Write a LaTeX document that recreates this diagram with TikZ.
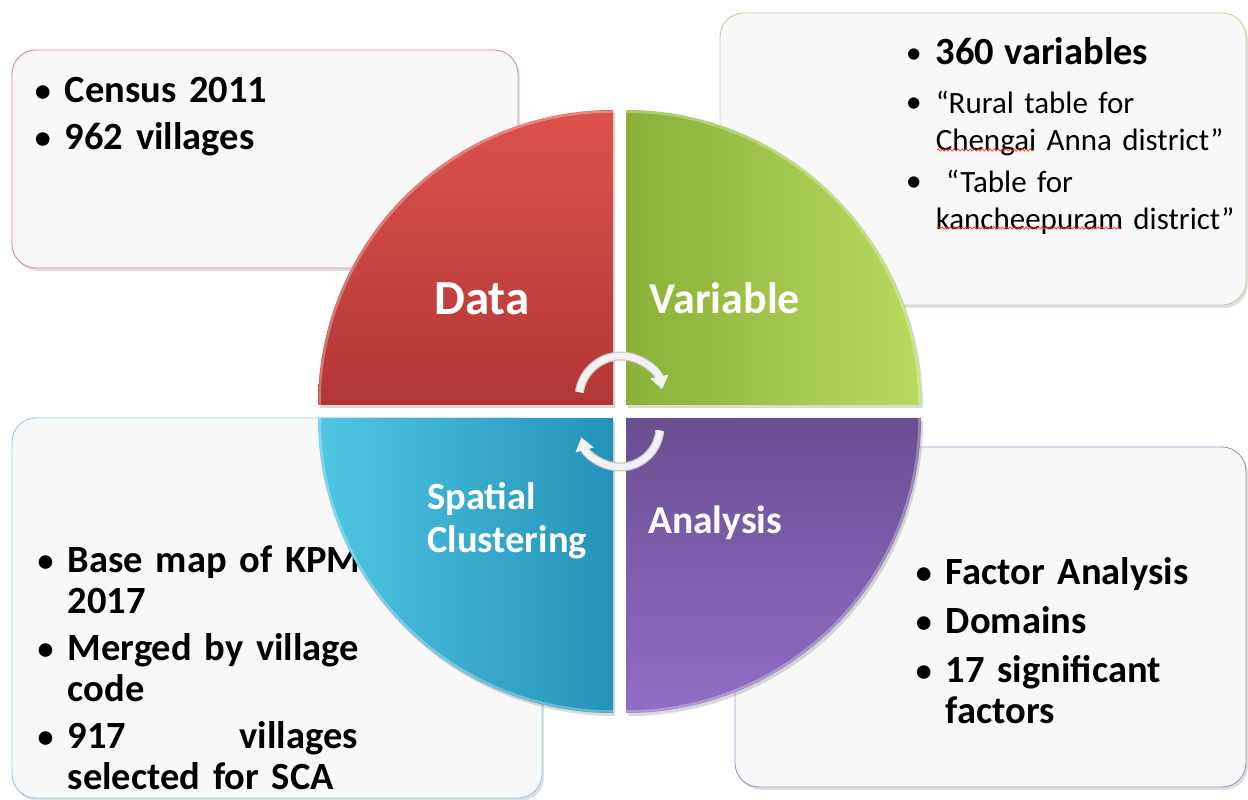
\documentclass[tikz,border=0pt]{standalone}
\usepackage{fontspec}
\setmainfont{Carlito}
\usepackage{xcolor}
\usepackage{tikz}
\usetikzlibrary{arrows.meta, shadows, decorations.pathmorphing}

\definecolor{datared}{RGB}{220,82,77}
\definecolor{datareddark}{RGB}{178,55,55}
\definecolor{vargreen}{RGB}{138,176,56}
\definecolor{vargreenlight}{RGB}{184,218,94}
\definecolor{spblue}{RGB}{80,198,228}
\definecolor{spbluedark}{RGB}{36,146,184}
\definecolor{anpurple}{RGB}{106,78,146}
\definecolor{anpurplelight}{RGB}{144,110,198}
\definecolor{boxfill}{RGB}{248,248,248}
\definecolor{edgered}{RGB}{205,150,142}
\definecolor{edgegreen}{RGB}{198,204,160}
\definecolor{edgeblue}{RGB}{150,200,224}
\definecolor{edgepurple}{RGB}{160,150,192}

\newcommand{\bulmark}{\raisebox{1.5pt}{\fontsize{32pt}{32pt}\selectfont\textbullet}}
\newcommand{\bul}[1]{\par\rightskip=0pt plus 1fil\relax
  \hangindent=30pt\relax\hangafter=1\relax
  \noindent\makebox[30pt][l]{\bulmark}#1\par}

\begin{document}
\begin{tikzpicture}[
    x=1pt, y=1pt,
    panel/.style={rectangle, draw, fill=boxfill, rounded corners=24pt, line width=0.9pt,
                  drop shadow={shadow xshift=2pt, shadow yshift=-3pt, opacity=0.25}},
    note/.style={anchor=north west, inner sep=0pt,
                 font=\fontsize{38.5pt}{41pt}\selectfont\bfseries\setlength{\parskip}{6pt}},
    quarter/.style={drop shadow={shadow xshift=2pt, shadow yshift=-3pt, opacity=0.3}},
    rim/.style={draw=white, opacity=0.3, line width=2.5pt},
    qlabel/.style={text=white, font=\fontsize{44pt}{48pt}\selectfont\bfseries, inner sep=0pt},
    cyc/.style={line width=6.5pt, draw=white!90!gray, -{Triangle[length=13pt, width=18pt]}},
    cycbase/.style={line width=9pt, draw=gray!45, shorten >=11pt},
    squiggle/.style={draw=red!80, line width=0.7pt,
                     decorate, decoration={snake, amplitude=1.2pt, segment length=4pt}}
]
    \useasboundingbox (0,0) rectangle (1248,800);

    % text panels
    \node[panel, draw=edgered, minimum width=506pt, minimum height=218pt] (databox) at (265,641) {};
    \node[panel, draw=edgegreen, minimum width=526pt, minimum height=292pt] (varbox) at (983,641) {};
    \node[panel, draw=edgeblue, minimum width=530pt, minimum height=380pt] (spbox) at (277,192) {};
    \node[panel, draw=edgepurple, minimum width=511pt, minimum height=340pt] (anbox) at (990.5,183) {};

    \node[note, text width=440pt] (datatxt) at ([xshift=23pt, yshift=-6pt]databox.north west)
        {\bul{Census 2011}\bul{962 villages}};
    \node[note, text width=330pt, font=\fontsize{31pt}{37pt}\selectfont\setlength{\parskip}{5pt}]
        (vartxt) at ([xshift=186pt, yshift=-10pt]varbox.north west)
        {\bul{{\bfseries\fontsize{38.5pt}{41pt}\selectfont 360 variables}}\vspace{7pt}%
         \bul{\textquotedblleft Rural table for\newline Chengai Anna district\textquotedblright}%
         \bul{\ \textquotedblleft Table for\newline kancheepuram district\textquotedblright}};
    \node[note, text width=360pt] (sptxt) at ([xshift=26pt, yshift=-108pt]spbox.north west)
        {\bul{Base map of KPM\newline 2017}\bul{Merged by village\newline code}%
         \bul{\makebox[290pt][l]{917\hfill villages}\newline selected for SCA}};
    \node[note, text width=300pt, font=\fontsize{38.5pt}{41pt}\selectfont\bfseries\setlength{\parskip}{8pt}]
        (antxt) at ([xshift=181pt, yshift=-89pt]anbox.north west)
        {\bul{Factor Analysis}\bul{Domains}\bul{17 significant\newline factors}};

    % spelling marks
    \draw[squiggle] (937,650) -- (1034,650);
    \draw[squiggle] (937,572) -- (1122,572);

    % quarter circles
    \shade[quarter, top color=datared, bottom color=datareddark]
        (613,395) -- (318,395) arc[start angle=180, end angle=90, radius=295pt] -- cycle;
    \shade[quarter, left color=vargreen, right color=vargreenlight]
        (626,395) -- (626,690) arc[start angle=90, end angle=0, radius=295pt] -- cycle;
    \shade[quarter, left color=spblue, right color=spbluedark]
        (613,382) -- (318,382) arc[start angle=180, end angle=270, radius=295pt] -- cycle;
    \shade[quarter, top color=anpurple, bottom color=anpurplelight]
        (626,382) -- (921,382) arc[start angle=0, end angle=-90, radius=295pt] -- cycle;
    \draw[rim] (319.5,395) arc[start angle=180, end angle=90, radius=293.5pt];
    \draw[rim] (626,688.5) arc[start angle=90, end angle=0, radius=293.5pt];
    \draw[rim] (319.5,382) arc[start angle=180, end angle=270, radius=293.5pt];
    \draw[rim] (919.5,382) arc[start angle=0, end angle=-90, radius=293.5pt];

    \node[qlabel, font=\fontsize{49pt}{52pt}\selectfont\bfseries] (datalbl) at (482,501) {Data};
    \node[qlabel] (varlbl) at (725,502) {Variable};
    \node[qlabel, anchor=west, align=left, font=\fontsize{38.5pt}{43pt}\selectfont\bfseries]
        (splbl) at (427,279) {Spatial\\Clustering};
    \node[qlabel, anchor=west, font=\fontsize{39.5pt}{43pt}\selectfont\bfseries]
        (anlbl) at (648,277) {Analysis};

    % cycle arrows
    \coordinate (cyctop) at (579.4,407.8);
    \coordinate (cycbot) at (659.8,369.5);
    \draw[cycbase] (cyctop) arc[start angle=172, end angle=12, radius=42pt];
    \draw[cyc] (cyctop) arc[start angle=172, end angle=12, radius=42pt];
    \draw[cycbase] (cycbot) arc[start angle=-5, end angle=-165, radius=40pt];
    \draw[cyc] (cycbot) arc[start angle=-5, end angle=-165, radius=40pt];
\end{tikzpicture}
\end{document}
